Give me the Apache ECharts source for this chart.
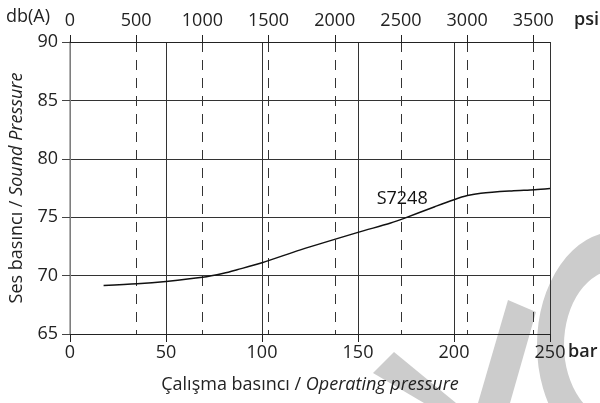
<!DOCTYPE html>
<html>
<head>
<meta charset="utf-8">
<script src="https://cdn.jsdelivr.net/npm/echarts@6/dist/echarts.min.js"></script>
<style>html,body{margin:0;padding:0;background:#fff;}#c{width:600px;height:403px;}</style>
</head>
<body>
<div id="c"></div>
<script>
// Data
const seriesName = 'S7248';
const pressureBar = [17.5, 35, 50, 69, 80, 87, 100, 120, 150, 167, 174, 190, 200, 207, 214, 230, 242, 250];
const soundDb =     [69.15, 69.3, 69.5, 69.85, 70.2, 70.5, 71.1, 72.2, 73.7, 74.5, 74.9, 75.9, 76.5, 76.85, 77.05, 77.25, 77.35, 77.45];
const barTicks = [0, 50, 100, 150, 200, 250];
const psiTicks = [0, 500, 1000, 1500, 2000, 2500, 3000, 3500];
const dbTicks = [65, 70, 75, 80, 85, 90];
const labelPos = [173, 76.6];
const BAR_PER_PSI = 0.0689476;

const FONT = '"Open Sans", "Noto Sans", sans-serif';
const chart = echarts.init(document.getElementById('c'), null, {renderer: 'canvas'});
const psiMax = barTicks[barTicks.length - 1] / BAR_PER_PSI;

chart.setOption({
  animation: false,
  backgroundColor: '#fff',
  textStyle: {fontFamily: FONT},
  grid: {left: 70, right: 50, top: 42, bottom: 69},
  graphic: {
    z: -5,
    elements: [
      {type: 'polygon', z: -5, silent: true, shape: {points: [[373,373],[394,352],[456,403],[424,403]]}, style: {fill: '#cccccc'}},
      {type: 'polygon', z: -5, silent: true, shape: {points: [[478,403],[510,403],[536,312],[508,300]]}, style: {fill: '#cccccc'}},
      {type: 'ring', z: -5, silent: true, shape: {cx: 617, cy: 345, r: 80, r0: 53}, originX: 617, originY: 345, scaleY: 1.42, style: {fill: '#cccccc'}},
      {type: 'text', left: 6, top: 8, style: {text: 'db(A)', font: '18px ' + FONT, fill: '#222'}},
      {type: 'text', left: 574, top: 11, style: {text: 'psi', font: '600 18px ' + FONT, fill: '#222'}},
      {type: 'text', left: 568, top: 343, style: {text: 'bar', font: '600 18px ' + FONT, fill: '#222'}}
    ]
  },
  xAxis: [
    {
      type: 'value', position: 'bottom', min: 0, max: 250, interval: 50,
      name: '{n|Çalışma basıncı / }{i|Operating pressure}',
      nameLocation: 'middle', nameGap: 42,
      nameTextStyle: {rich: {n: {fontSize: 18, color: '#222', fontFamily: FONT}, i: {fontSize: 18, color: '#222', fontStyle: 'italic', fontFamily: FONT}}},
      axisLine: {show: true, lineStyle: {color: '#222', width: 1}},
      axisTick: {show: true, length: 8, lineStyle: {color: '#222'}},
      axisLabel: {margin: 10, fontSize: 18, color: '#222', fontFamily: FONT},
      splitLine: {show: true, lineStyle: {color: '#333', width: 1, type: 'solid'}}
    },
    {
      type: 'value', position: 'top', min: 0, max: psiMax, interval: 500,
      axisLine: {show: true, lineStyle: {color: '#222', width: 1}},
      axisTick: {show: true, length: 7, lineStyle: {color: '#222'}},
      axisLabel: {margin: 12, fontSize: 18, color: '#222', fontFamily: FONT, showMaxLabel: false,
        formatter: v => psiTicks.includes(Math.round(v)) ? String(Math.round(v)) : ''},
      splitLine: {show: true, lineStyle: {color: '#333', width: 1, type: [10, 8]}}
    }
  ],
  yAxis: {
    type: 'value', min: 65, max: 90, interval: 5,
    name: '{n|Ses basıncı / }{i|Sound Pressure}',
    nameLocation: 'middle', nameGap: 44, nameRotate: 90,
    nameTextStyle: {rich: {n: {fontSize: 18, color: '#222', fontFamily: FONT}, i: {fontSize: 18, color: '#222', fontStyle: 'italic', fontFamily: FONT}}},
    axisLine: {show: true, lineStyle: {color: '#999', width: 1.5}},
    axisTick: {show: true, length: 8, lineStyle: {color: '#444'}},
    axisLabel: {margin: 12, fontSize: 18, color: '#222', fontFamily: FONT},
    splitLine: {show: true, lineStyle: {color: '#333', width: 1}}
  },
  series: [
    {
      name: seriesName, type: 'line', xAxisIndex: 0, yAxisIndex: 0,
      data: pressureBar.map((x, i) => [x, soundDb[i]]),
      smooth: 0.3, showSymbol: false, symbol: 'none',
      lineStyle: {color: '#111', width: 1.5},
      z: 5,
      markPoint: {
        symbol: 'circle', symbolSize: 1,
        itemStyle: {color: '#ffffff'},
        label: {show: true, position: 'inside', formatter: seriesName, fontSize: 18, color: '#111', textBorderWidth: 0, fontFamily: FONT},
        data: [{coord: labelPos}]
      }
    }
  ]
});
</script>
</body>
</html>
